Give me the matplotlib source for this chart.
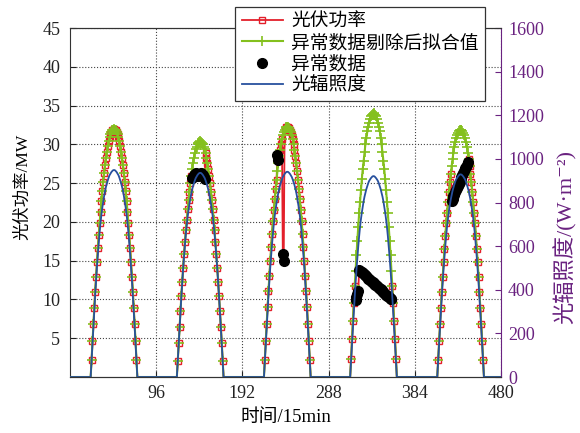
import numpy as np
import matplotlib
matplotlib.use('Agg')
import matplotlib.pyplot as plt
from matplotlib.lines import Line2D

# 5 days of 15-min samples (96 per day); only the daylight part of each day is listed
day_start = [24, 120, 217, 313, 410]

# PV output after removing abnormal data (MW)
fit_day1 = [2.2, 4.6, 6.8, 8.9, 11.0, 12.9, 14.8, 16.6, 18.3, 19.9, 21.3, 22.7, 24.0, 25.2, 26.3, 27.3, 28.2,
            29.0, 29.8, 30.4, 30.9, 31.3, 31.6, 31.8, 31.9, 32.0, 31.9, 31.8, 31.6, 31.3, 30.9, 30.4, 29.8,
            29.0, 28.2, 27.3, 26.3, 25.2, 24.0, 22.7, 21.3, 19.9, 18.3, 16.6, 14.8, 12.9, 11.0, 8.9, 6.8, 4.6, 2.2]
fit_day2 = [2.1, 4.4, 6.5, 8.5, 10.5, 12.3, 14.1, 15.8, 17.4, 18.9, 20.2, 21.6, 22.8, 23.9, 25.0, 25.9, 26.8,
            27.6, 28.3, 28.9, 29.4, 29.7, 30.0, 30.2, 30.3, 30.4, 30.3, 30.2, 30.0, 29.7, 29.4, 28.9, 28.3,
            27.6, 26.8, 25.9, 25.0, 23.9, 22.8, 21.6, 20.2, 18.9, 17.4, 15.8, 14.1, 12.3, 10.5, 8.5, 6.5, 4.4, 2.1]
fit_day3 = [2.2, 4.6, 6.9, 9.0, 11.1, 13.0, 14.9, 16.8, 18.5, 20.1, 21.5, 22.9, 24.2, 25.4, 26.5, 27.6, 28.5,
            29.3, 30.1, 30.7, 31.2, 31.6, 31.9, 32.1, 32.2, 32.3, 32.2, 32.1, 31.9, 31.6, 31.2, 30.7, 30.1,
            29.3, 28.5, 27.6, 26.5, 25.4, 24.2, 22.9, 21.5, 20.1, 18.5, 16.8, 14.9, 13.0, 11.1, 9.0, 6.9, 4.6, 2.2]
fit_day4 = [2.3, 4.9, 7.2, 9.5, 11.7, 13.7, 15.7, 17.6, 19.4, 21.1, 22.6, 24.1, 25.5, 26.8, 27.9, 29.0, 30.0,
            30.8, 31.7, 32.3, 32.8, 33.3, 33.6, 33.8, 33.9, 34.0, 33.9, 33.8, 33.6, 33.3, 32.8, 32.3, 31.7,
            30.8, 30.0, 29.0, 27.9, 26.8, 25.5, 24.1, 22.6, 21.1, 19.4, 17.6, 15.7, 13.7, 11.7, 9.5, 7.2, 4.9, 2.3]
fit_day5 = [2.2, 4.6, 6.8, 8.9, 11.0, 12.9, 14.8, 16.5, 18.2, 19.8, 21.2, 22.6, 23.9, 25.1, 26.2, 27.2, 28.1,
            28.9, 29.7, 30.3, 30.8, 31.2, 31.5, 31.7, 31.8, 31.9, 31.8, 31.7, 31.5, 31.2, 30.8, 30.3, 29.7,
            28.9, 28.1, 27.2, 26.2, 25.1, 23.9, 22.6, 21.2, 19.8, 18.2, 16.5, 14.8, 12.9, 11.0, 8.9, 6.8, 4.6, 2.2]

# solar irradiance (W/m^2)
irr_day1 = [76, 153, 229, 302, 373, 441, 505, 562, 615, 665, 708, 745, 777, 805, 830, 852, 871, 887, 901, 914,
            925, 932, 939, 944, 948, 949, 948, 944, 939, 932, 925, 914, 901, 887, 871, 852, 830, 805, 777, 745,
            708, 665, 615, 562, 505, 441, 373, 302, 229, 153, 76]
irr_day2 = [75, 151, 226, 298, 368, 435, 498, 554, 606, 656, 698, 735, 766, 794, 818, 840, 859, 875, 888, 901,
            912, 919, 926, 931, 935, 936, 935, 931, 926, 919, 912, 901, 888, 875, 859, 840, 818, 794, 766, 735,
            698, 656, 606, 554, 498, 435, 368, 298, 226, 151, 75]
irr_day3 = [75, 152, 227, 299, 370, 437, 501, 557, 610, 659, 702, 739, 770, 798, 823, 845, 864, 880, 893, 906,
            917, 924, 931, 936, 940, 941, 940, 936, 931, 924, 917, 906, 893, 880, 864, 845, 823, 798, 770, 739,
            702, 659, 610, 557, 501, 437, 370, 299, 227, 152, 75]
irr_day4 = [74, 148, 222, 293, 362, 428, 490, 545, 597, 645, 687, 723, 754, 781, 806, 827, 845, 861, 874, 887,
            898, 905, 911, 916, 920, 921, 920, 916, 911, 905, 898, 887, 874, 861, 845, 827, 806, 781, 754, 723,
            687, 645, 597, 545, 490, 428, 362, 293, 222, 148, 74]
irr_day5 = [74, 150, 224, 296, 365, 432, 494, 550, 602, 651, 693, 729, 761, 788, 813, 834, 853, 868, 882, 895,
            906, 912, 919, 924, 928, 929, 928, 924, 919, 912, 906, 895, 882, 868, 853, 834, 813, 788, 761, 729,
            693, 651, 602, 550, 494, 432, 365, 293, 224, 150, 74]

# abnormal measured PV output (MW): first sample index of each run and its values
abn_start = [136, 231, 237, 318, 425]
abn_vals = [
    [25.6, 25.8, 26.0, 26.2, 26.3, 26.2, 26.0, 25.9, 26.0, 26.2, 26.3, 26.2, 26.0, 25.8, 25.5],
    [28.6, 28.0],
    [15.8, 15.0],
    [9.9, 10.3, 10.7, 11.1, 13.8, 13.7, 13.6, 13.5, 13.4, 13.3, 13.2, 13.1, 13.0, 12.9, 12.7, 12.6, 12.5,
     12.4, 12.3, 12.2, 12.1, 12.0, 11.9, 11.8, 11.7, 11.6, 11.5, 11.4, 11.3, 11.2, 11.1, 11.0, 10.8, 10.7,
     10.6, 10.5, 10.4, 10.3, 10.2, 10.1, 10.0],
    [22.7, 23.0, 23.3, 23.5, 23.8, 24.1, 24.4, 24.6, 24.9, 25.2, 25.5, 25.8, 26.0, 26.3, 26.6, 26.9, 27.1,
     27.4, 27.7],
]

fit_days = [fit_day1, fit_day2, fit_day3, fit_day4, fit_day5]
irr_days = [irr_day1, irr_day2, irr_day3, irr_day4, irr_day5]

n = 481
t = np.arange(n)
fit = np.zeros(n)
irr = np.zeros(n)
for s, p, r in zip(day_start, fit_days, irr_days):
    fit[s:s + len(p)] = p
    irr[s:s + len(r)] = r

power = fit.copy()
abn_t, abn_p = [], []
for s, v in zip(abn_start, abn_vals):
    power[s:s + len(v)] = v
    abn_t += list(range(s, s + len(v)))
    abn_p += v

daylight = fit > 0
power_mk = np.where(daylight, power, np.nan)
fit_mk = np.where(daylight, fit, np.nan)

RED = '#e3202b'
GREEN = '#84c01e'
BLUE = '#27509e'
PURPLE = '#6a2280'

plt.rcParams['font.family'] = ['Liberation Serif', 'DejaVu Serif', 'Noto Sans CJK SC']
plt.rcParams['axes.unicode_minus'] = False

fig = plt.figure(figsize=(5.8, 4.33), dpi=100)
ax = fig.add_axes([0.1207, 0.1293, 0.7431, 0.806])

ax.plot(t, power, color=RED, lw=1.3, zorder=2)
ax.plot(t, power_mk, ls='none', marker='s', ms=5, mfc='none', mec=RED, mew=1.0, zorder=2)
ax.plot(t, fit, color=GREEN, lw=1.5, zorder=3)
ax.plot(t, fit_mk, ls='none', marker='+', ms=7.5, mec=GREEN, mew=1.2, zorder=3)
ax.plot(abn_t, abn_p, ls='none', marker='o', ms=7, color='k', zorder=4)

ax.set_xlim(0, 480)
ax.set_ylim(0, 45)
ax.set_xticks([96, 192, 288, 384, 480])
ax.set_yticks(range(5, 46, 5))
ax.grid(True, ls=':', color='#444444', lw=0.8)
ax.tick_params(direction='in', length=4, labelsize=13, colors='#222222')
ax.tick_params(axis='y', pad=7)
ax.tick_params(axis='x', pad=6)
for side in ['left', 'bottom', 'top']:
    ax.spines[side].set_color('#333333')
ax.spines['right'].set_visible(False)
ax.set_xlabel('时间/15min', fontsize=13.5)
ax.set_ylabel('光伏功率/MW', fontsize=12.5)
ax.xaxis.set_label_coords(0.5, -0.092)
ax.yaxis.set_label_coords(-0.09, 0.545)

ax2 = ax.twinx()
ax2.plot(t, irr, color=BLUE, lw=1.3)
ax2.set_ylim(0, 1600)
ax2.set_yticks(range(0, 1601, 200))
ax2.tick_params(direction='in', length=4, labelsize=13, colors=PURPLE, pad=5)
ax2.spines['right'].set_color(PURPLE)
ax2.spines['left'].set_visible(False)
ax2.spines['top'].set_color('#333333')
ax2.spines['bottom'].set_color('#333333')
ax2.set_ylabel('光辐照度/(W·m⁻²)', fontsize=16, color=PURPLE)
ax2.yaxis.set_label_coords(1.122, 0.40)

handles = [
    Line2D([], [], color=RED, lw=1.3, marker='s', ms=5, mfc='none', mec=RED, mew=1.0),
    Line2D([], [], color=GREEN, lw=1.5, marker='+', ms=7.5, mew=1.2),
    Line2D([], [], ls='none', marker='o', ms=7, color='k'),
    Line2D([], [], color=BLUE, lw=1.3),
]
labels = ['光伏功率', '异常数据剔除后拟合值', '异常数据', '光辐照度']
leg = ax2.legend(handles, labels, loc='upper left', bbox_to_anchor=(235 / 580, 1 - 7 / 433),
                 bbox_transform=fig.transFigure, borderaxespad=0, fontsize=13.5, fancybox=False,
                 edgecolor='#333333', framealpha=1, handlelength=2.2, handletextpad=0.45,
                 labelspacing=0.2, borderpad=0.35)
leg.get_frame().set_linewidth(0.9)

fig.savefig('out.png', dpi=100)
